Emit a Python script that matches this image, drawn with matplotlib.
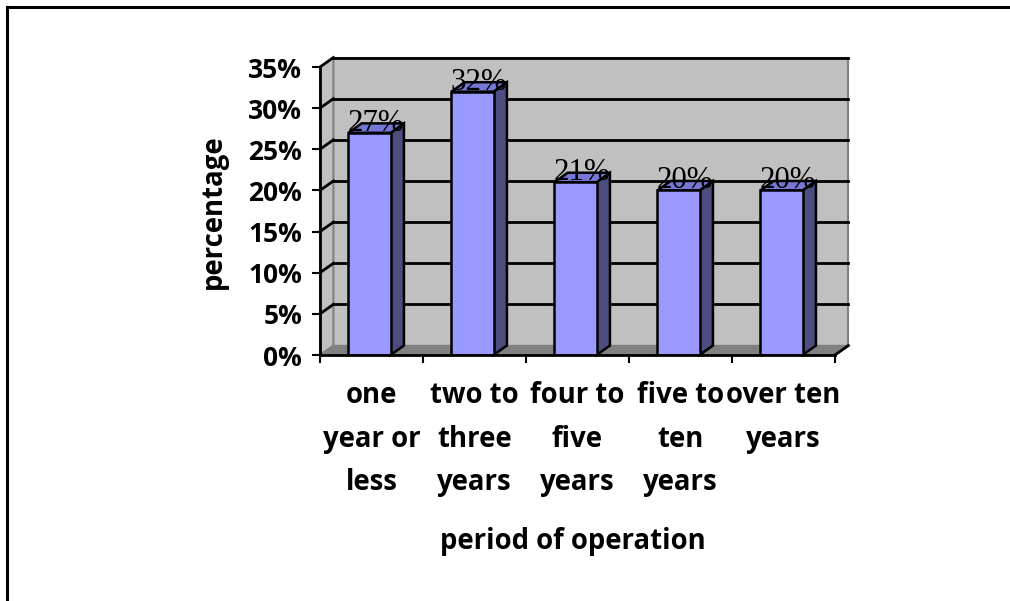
import matplotlib
matplotlib.use("Agg")
import matplotlib.pyplot as plt
from matplotlib.patches import Polygon
from matplotlib.lines import Line2D
from matplotlib.textpath import TextPath
from matplotlib.font_manager import FontProperties

categories = ["one\nyear or\nless", "two to\nthree\nyears", "four to\nfive\nyears",
              "five to\nten\nyears", "over ten\nyears"]
values = [27, 32, 21, 20, 20]
value_labels = ["27%", "32%", "21%", "20%", "20%"]
yticks = [0, 5, 10, 15, 20, 25, 30, 35]
ytick_labels = ["0%", "5%", "10%", "15%", "20%", "25%", "30%", "35%"]

SANS = ["Open Sans", "DejaVu Sans"]
W, H = 1010, 601
fig = plt.figure(figsize=(W / 100, H / 100), dpi=100)


def fit(text, family, weight, target_px):
    fp = FontProperties(family=family, weight=weight, size=10)
    w = TextPath((0, 0), text, prop=fp).get_extents().width
    w_px = w * 100 / 72
    return 10 * target_px / w_px


fs_tick = fit("35%", SANS, "bold", 52)
fs_cat = fit("over ten", SANS, "bold", 111)
fs_title = fit("period of operation", SANS, "bold", 262)
fs_val = fit("27%", ["Liberation Serif"], "normal", 54)

fig.add_artist(Line2D([7 / W, 7 / W], [0, 1 - 7 / H], transform=fig.transFigure, color="black", lw=2.2))
fig.add_artist(Line2D([7 / W, 1], [1 - 7 / H, 1 - 7 / H], transform=fig.transFigure, color="black", lw=2.2))

x0, x1, ytop, ybot = 320, 835, 67, 355
ax = fig.add_axes([x0 / W, 1 - ybot / H, (x1 - x0) / W, (ybot - ytop) / H])
n = len(categories)
ax.set_xlim(-0.5, n - 0.5)
ax.set_ylim(0, 35)
ax.patch.set_visible(False)

dx, dy = 0.13, 1.15
xl, xr = -0.5, n - 0.5
wall = "#C0C0C0"
edge_gray = "#808080"

ax.add_patch(Polygon([(xl + dx, dy), (xr + dx, dy), (xr + dx, 35 + dy), (xl + dx, 35 + dy)],
                     closed=True, fc=wall, ec=edge_gray, lw=1.5, zorder=1, clip_on=False))
ax.add_patch(Polygon([(xl, 0), (xl + dx, dy), (xl + dx, 35 + dy), (xl, 35)],
                     closed=True, fc=wall, ec=edge_gray, lw=1.5, zorder=1, clip_on=False))
ax.add_patch(Polygon([(xl, 0), (xr, 0), (xr + dx, dy), (xl + dx, dy)],
                     closed=True, fc="#808080", ec=edge_gray, lw=1, zorder=1.5, clip_on=False))
ax.plot([xr, xr + dx], [0, dy], color="black", lw=2, zorder=2, clip_on=False)

for v in yticks[1:]:
    ax.plot([xl + dx, xr + dx], [v + dy, v + dy], color="black", lw=2, zorder=2, clip_on=False)
    ax.plot([xl, xl + dx], [v, v + dy], color="black", lw=2, zorder=2, clip_on=False)

bw = 0.41
off = -0.02
front = "#9999FF"
side = "#4D4D80"
top = "#7777D6"
for i, v in enumerate(values):
    c = i + off
    l, r = c - bw / 2, c + bw / 2
    ax.bar(c, v, width=bw, color=front, edgecolor="black", lw=1.8, zorder=5)
    ax.add_patch(Polygon([(r, 0), (r + dx, dy), (r + dx, v + dy), (r, v)], closed=True,
                         fc=side, ec="black", lw=1.8, zorder=4, clip_on=False))
    ax.add_patch(Polygon([(l, v), (r, v), (r + dx, v + dy), (l + dx, v + dy)], closed=True,
                         fc=top, ec="black", lw=1.8, zorder=4, clip_on=False))
    ax.text(c + dx / 2, v + 0.25, value_labels[i], ha="center", va="baseline",
            family="Liberation Serif", fontsize=fs_val, color="black", zorder=6)

for s in ["top", "right"]:
    ax.spines[s].set_visible(False)
for s in ["left", "bottom"]:
    ax.spines[s].set_linewidth(2)
    ax.spines[s].set_zorder(7)

ax.set_yticks(yticks)
ax.set_yticklabels(ytick_labels, family=SANS, fontweight="bold", fontsize=fs_tick)
ax.set_xticks([i - 0.5 for i in range(n + 1)])
ax.set_xticklabels([])
ax.set_xticks(range(n), minor=True)
ax.set_xticklabels(categories, minor=True, family=SANS, fontweight="bold", fontsize=fs_cat,
                   linespacing=1.66)
ax.tick_params(axis="x", which="minor", length=0, pad=19)
ax.tick_params(axis="both", which="major", length=6, width=1.5, direction="out")
ax.tick_params(axis="y", pad=7)

fig.text(573 / W, 1 - 542 / H, "period of operation", ha="center", va="center",
         family=SANS, fontweight="bold", fontsize=fs_title)
fig.text(213 / W, 1 - 212 / H, "percentage", ha="center", va="center", rotation=90,
         family=SANS, fontweight="bold", fontsize=fs_title)

fig.savefig("out.png", dpi=100)
